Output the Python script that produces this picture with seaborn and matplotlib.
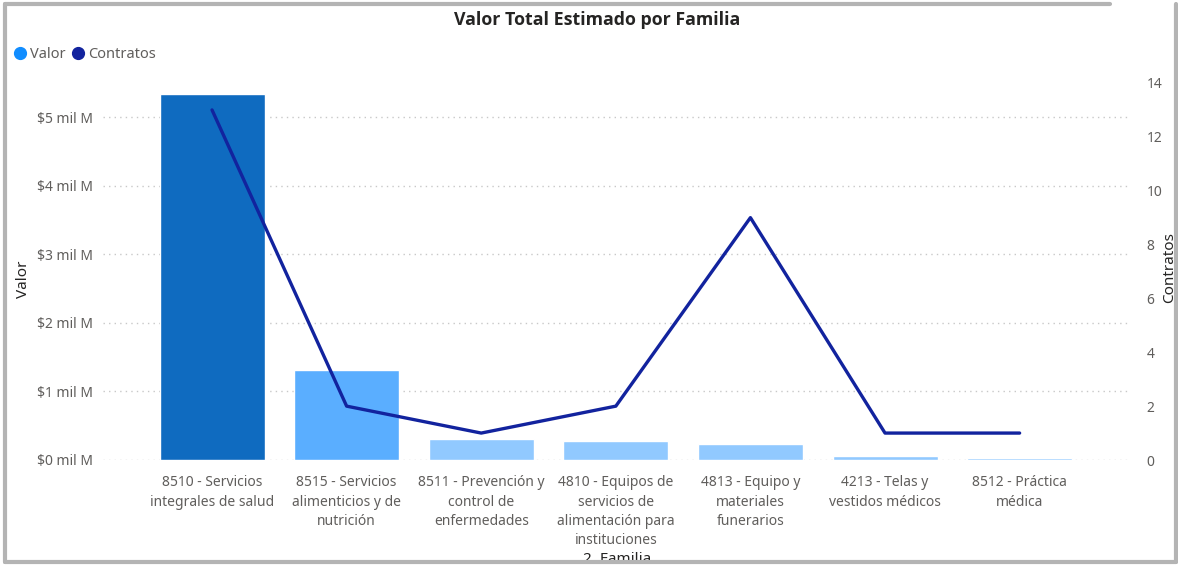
import numpy as np
import pandas as pd
import matplotlib
matplotlib.use("Agg")
import matplotlib.pyplot as plt
from matplotlib.lines import Line2D
import seaborn as sns

# ---- data ----
familias = [
    "8510 - Servicios\nintegrales de salud",
    "8515 - Servicios\nalimenticios y de\nnutrición",
    "8511 - Prevención y\ncontrol de\nenfermedades",
    "4810 - Equipos de\nservicios de\nalimentación para\ninstituciones",
    "4813 - Equipo y\nmateriales\nfunerarios",
    "4213 - Telas y\nvestidos médicos",
    "8512 - Práctica\nmédica",
]
valor = [5.34, 1.31, 0.31, 0.28, 0.24, 0.06, 0.025]   # mil M
contratos = [13, 2, 1, 2, 9, 1, 1]
valor_ticks = [0, 1, 2, 3, 4, 5]
valor_ticklabels = ["$0 mil M", "$1 mil M", "$2 mil M", "$3 mil M", "$4 mil M", "$5 mil M"]
contratos_ticks = [0, 2, 4, 6, 8, 10, 12, 14]
bar_colors = ["#0F6BC0", "#5AAEFF", "#91C9FF", "#91C9FF", "#91C9FF", "#91C9FF", "#91C9FF"]

sns.set_theme(style="white")
plt.rcParams["font.family"] = ["Noto Sans", "DejaVu Sans"]

W, H = 1178, 566
fig = plt.figure(figsize=(W / 100, H / 100), dpi=100)
x0, x1, y0, y1 = 103, 1130, 460, 83
ax = fig.add_axes([x0 / W, 1 - y0 / H, (x1 - x0) / W, (y0 - y1) / H])

df = pd.DataFrame({"Familia": familias, "Valor": valor, "Contratos": contratos})

sns.barplot(data=df, x="Familia", y="Valor", hue="Familia", order=familias,
            palette=bar_colors, legend=False, width=0.78, ax=ax, saturation=1)
ax.set_xlim(-0.81, 6.82)
ax.set_ylim(0, 5.5)
ax.set_yticks(valor_ticks)
ax.set_yticklabels(valor_ticklabels)
ax.yaxis.grid(True, linestyle=(0, (1, 3)), color="#C8C8C8", linewidth=1)
ax.set_axisbelow(True)
for s in ax.spines.values():
    s.set_visible(False)
ax.tick_params(axis="y", length=0, pad=7, labelsize=10, labelcolor="#605E5C")
ax.tick_params(axis="x", length=0, pad=11, labelsize=10, labelcolor="#605E5C")
for lbl in ax.get_xticklabels():
    lbl.set_linespacing(1.4)
ax.set_xlabel("2. Familia", fontsize=11, color="#252423")
ax.xaxis.set_label_coords((617 - x0) / (x1 - x0), -(552 - y0) / (y0 - y1))
ax.set_ylabel("Valor", fontsize=11, color="#252423")
ax.yaxis.set_label_coords(-(x0 - 31) / (x1 - x0), 0.48)

ax2 = ax.twinx()
sns.lineplot(x=np.arange(len(contratos)), y=contratos, ax=ax2, color="#12239E",
             linewidth=2.4, legend=False)
ax2.set_ylim(0, 14.0)
ax2.set_yticks(contratos_ticks)
for s in ax2.spines.values():
    s.set_visible(False)
ax2.tick_params(axis="y", length=0, pad=12, labelsize=10, labelcolor="#605E5C")
ax2.set_ylabel("Contratos", fontsize=11, color="#252423")
ax2.yaxis.set_label_coords(1 + (1162 - x1) / (x1 - x0), 0.51)
ax2.set_xlim(-0.81, 6.82)

# title
fig.text(597 / W, 1 - 20 / H, "Valor Total Estimado por Familia", ha="center", va="center",
         fontsize=12.8, fontweight="bold", color="#252423", family=["Open Sans", "DejaVu Sans"])

# legend
fig.add_artist(Line2D([20 / W], [1 - 53 / H], marker="o", markersize=8.5, color="#118DFF",
                      linestyle="none", transform=fig.transFigure))
fig.text(30 / W, 1 - 54 / H, "Valor", ha="left", va="center", fontsize=10.5, color="#605E5C")
fig.add_artist(Line2D([78 / W], [1 - 53 / H], marker="o", markersize=8.5, color="#12239E",
                      linestyle="none", transform=fig.transFigure))
fig.text(88 / W, 1 - 54 / H, "Contratos", ha="left", va="center", fontsize=10.5, color="#605E5C")

# frame
bc = "#B4B4B4"
lw = 3
fig.add_artist(Line2D([5 / W, 5 / W], [1 - 4 / H, 1 - 562 / H], color=bc, lw=lw, transform=fig.transFigure))
fig.add_artist(Line2D([5 / W, 1176 / W], [1 - 562 / H, 1 - 562 / H], color=bc, lw=lw, transform=fig.transFigure))
fig.add_artist(Line2D([1176 / W, 1176 / W], [1 - 4 / H, 1 - 562 / H], color=bc, lw=lw, transform=fig.transFigure))
fig.add_artist(Line2D([5 / W, 1110 / W], [1 - 4 / H, 1 - 4 / H], color=bc, lw=lw, transform=fig.transFigure))

fig.savefig("out.png", dpi=100)
